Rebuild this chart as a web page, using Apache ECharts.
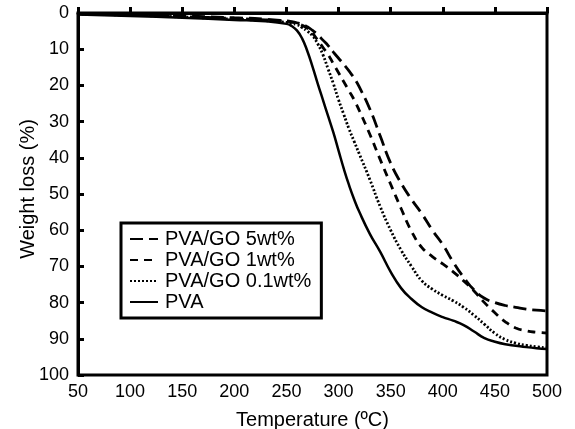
<!DOCTYPE html>
<html>
<head>
<meta charset="utf-8">
<script src="https://cdn.jsdelivr.net/npm/echarts@6/dist/echarts.min.js"></script>
<style>html,body{margin:0;padding:0;background:#fff}#c{width:575px;height:429px}</style>
</head>
<body>
<div id="c"></div>
<script>
// Temperature (ºC) sample points
var temps = [50,100,150,200,230,250,255,260,265,270,275,280,285,290,295,300,305,310,315,320,330,340,350,360,370,380,390,400,410,420,430,440,450,460,470,480,490,500];
// Weight loss (%) per series
var go5 = [0.2,0.4,0.8,1.3,1.7,2.2,2.4,2.7,3.1,3.8,4.8,6,7.5,9,10.8,12.5,14.2,16,18,20.5,26.5,34,41.5,47,51.5,55.5,60,64,68.8,73,76.5,78.8,80,80.8,81.3,81.8,82.1,82.3];
var go1 = [0.3,0.5,1,1.5,1.9,2.3,2.5,2.8,3.4,4.2,5.6,7.5,9.5,11.5,14,16.5,19,21.5,24,27,33.5,40.5,47.3,54,60.3,64.8,67.3,69.3,71.5,74,76.8,80,82.8,85.3,87,87.8,88.2,88.4];
var go01 = [0.3,0.6,1.1,1.7,2.1,2.6,2.9,3.2,4,5,6.3,8.5,11.5,15.5,19.5,24,28,32,35.5,39,46,53.5,60,65.5,70,74,76.3,78,79.5,81.3,83.5,86,88.5,90.2,91.2,91.8,92.2,92.5];
var pva = [0.4,0.8,1.3,1.9,2.3,3.0,3.6,4.8,7.0,10.5,14.8,19.5,24,28.5,33,38,43,47.5,51.5,55,61,66,71.5,76,79,81.3,82.8,84,85,86.2,88,89.8,90.8,91.5,91.9,92.3,92.6,92.8];
var seriesNames = ['PVA/GO 5wt%','PVA/GO 1wt%','PVA/GO 0.1wt%','PVA'];
var seriesValues = [go5, go1, go01, pva];
var seriesDash = [[13,6],[8,6],[2,2],'solid'];
var xTicks = {min:50, max:500, step:50};
var yTicks = {min:0, max:100, step:10};

var FONT = "'Liberation Sans', Arial, sans-serif";
function pairs(arr){ return temps.map(function(t,i){ return [t, arr[i]]; }); }

var chart = echarts.init(document.getElementById('c'), null, {renderer:'canvas'});
chart.setOption({
  animation: false,
  backgroundColor: '#fff',
  grid: {left:78, right:28, top:13, bottom:54, containLabel:false, outerBoundsMode:'none',
         show:true, borderColor:'#000', borderWidth:3, backgroundColor:'transparent'},
  xAxis: {
    type:'value', min:xTicks.min, max:xTicks.max, interval:xTicks.step,
    name:'Temperature (ºC)', nameLocation:'middle', nameGap:35, nameMoveOverlap:false,
    nameTextStyle:{fontSize:20, color:'#000', fontFamily:FONT},
    axisLine:{show:true, lineStyle:{color:'#000', width:3}},
    axisTick:{show:true, inside:true, length:6, lineStyle:{color:'#000', width:3}},
    axisLabel:{fontSize:18, color:'#000', fontFamily:FONT, margin:8},
    splitLine:{show:false}
  },
  yAxis: {
    type:'value', min:yTicks.min, max:yTicks.max, interval:yTicks.step, inverse:true,
    name:'Weight loss (%)', nameLocation:'middle', nameGap:40, nameRotate:90, nameMoveOverlap:false,
    nameTextStyle:{fontSize:20, color:'#000', fontFamily:FONT, padding:[0,0,0,10]},
    axisLine:{show:true, lineStyle:{color:'#000', width:3}},
    axisTick:{show:true, inside:true, length:6, lineStyle:{color:'#000', width:3}},
    axisLabel:{fontSize:18, color:'#000', fontFamily:FONT, margin:9},
    splitLine:{show:false}
  },
  legend: {
    orient:'vertical', left:121, top:223,
    itemWidth:28, itemHeight:12, itemGap:1,
    padding:[6,10,6,8], borderColor:'#000', borderWidth:3, backgroundColor:'#fff',
    itemStyle:{opacity:0, borderWidth:0},
    textStyle:{fontSize:20, color:'#000', fontFamily:FONT, padding:[0,0,0,2]},
    data: seriesNames
  },
  series: seriesNames.map(function(n,i){
    return {
      name:n, type:'line', data:pairs(seriesValues[i]),
      symbol:'none', showSymbol:false, smooth:0.5,
      lineStyle:{color:'#000', width: i===3 ? 2.5 : 2.8, type: seriesDash[i]},
      itemStyle:{color:'#000'}
    };
  })
});
</script>
</body>
</html>
